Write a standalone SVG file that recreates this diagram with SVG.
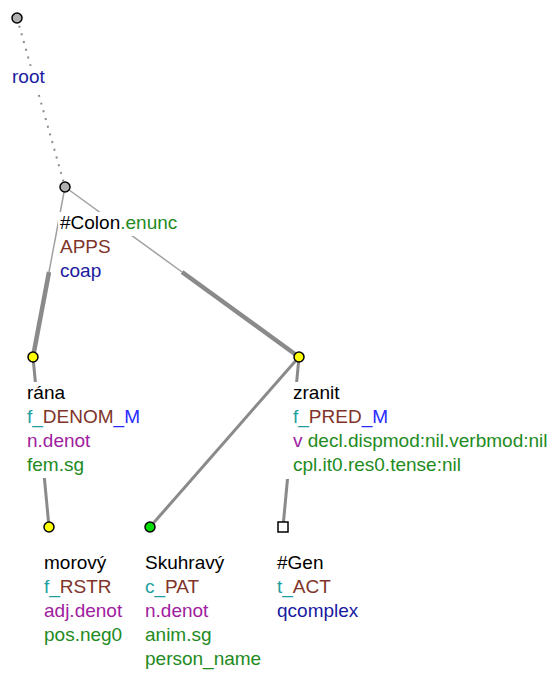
<svg xmlns="http://www.w3.org/2000/svg" width="557" height="673" viewBox="0 0 557 673">
<style>
text{font-family:"Liberation Sans",Arial,Helvetica,sans-serif;font-size:19px}
.bg{fill:#ffffff}
.lem{fill:#000000}
.grn{fill:#228b22}
.brn{fill:#80342a}
.cyn{fill:#1ea0a0}
.blu{fill:#2a2aff}
.dbl{fill:#1a1aa0}
.pur{fill:#a020a0}
.nd{stroke:#000000;stroke-width:1.5}
.gray{fill:#b0b0b0}
.yel{fill:#ffff00}
.gre{fill:#00dd00}
.thin{stroke:#a0a0a0;stroke-width:1.5;fill:none}
.thick{stroke:#8a8a8a;stroke-width:4.5;fill:none}
.edge{stroke:#8a8a8a;stroke-width:3;fill:none}
.dot{stroke:#8c8c8c;stroke-width:2;stroke-dasharray:2 6;fill:none}
</style>
<g id="connectors">
<line class="dot" x1="17" y1="18" x2="65" y2="187"/>
<line class="thin" x1="65" y1="187" x2="49" y2="272"/>
<line class="thick" x1="49" y1="272" x2="33" y2="357"/>
<line class="thin" x1="65" y1="187" x2="182" y2="272"/>
<line class="thick" x1="182" y1="272" x2="299" y2="357"/>
<line class="edge" x1="33" y1="357" x2="49" y2="527"/>
<line class="edge" x1="299" y1="357" x2="150" y2="527"/>
<line class="edge" x1="299" y1="357" x2="283" y2="527"/>
</g>
<g id="n-root">
<rect class="bg" x="10" y="66" width="36" height="24"/>
<text x="12" y="83" class="dbl">root</text>
<circle class="nd gray" cx="17" cy="18" r="5"/>
</g>
<g id="n-colon">
<rect class="bg" x="58" y="212" width="121" height="24"/>
<rect class="bg" x="58" y="236" width="53" height="24"/>
<rect class="bg" x="58" y="260" width="44" height="24"/>
<text x="60" y="229"><tspan class="lem">#Colon</tspan><tspan class="grn">.enunc</tspan></text>
<text x="60" y="253" class="brn">APPS</text>
<text x="60" y="277" class="dbl">coap</text>
<circle class="nd gray" cx="65" cy="187" r="5"/>
</g>
<g id="n-rana">
<rect class="bg" x="24" y="382" width="41" height="24"/>
<rect class="bg" x="24" y="406" width="116" height="24"/>
<rect class="bg" x="24" y="430" width="66" height="24"/>
<rect class="bg" x="24" y="454" width="60" height="24"/>
<text x="27" y="399" class="lem">rána</text>
<text x="27" y="423"><tspan class="cyn">f_</tspan><tspan class="brn">DENOM</tspan><tspan class="blu">_M</tspan></text>
<text x="27" y="447" class="pur">n.denot</text>
<text x="27" y="471" class="grn">fem.sg</text>
<circle class="nd yel" cx="33" cy="357" r="5"/>
</g>
<g id="n-zranit">
<rect class="bg" x="286" y="382" width="53" height="24"/>
<rect class="bg" x="286" y="406" width="102" height="24"/>
<rect class="bg" x="286" y="430" width="262" height="24"/>
<rect class="bg" x="286" y="454" width="176" height="25"/>
<text x="293" y="399" class="lem">zranit</text>
<text x="293" y="423"><tspan class="cyn">f_</tspan><tspan class="brn">PRED</tspan><tspan class="blu">_M</tspan></text>
<text x="293" y="447"><tspan class="pur">v</tspan><tspan class="grn"> decl.dispmod:nil.verbmod:nil</tspan></text>
<text x="293" y="471" class="grn">cpl.it0.res0.tense:nil</text>
<circle class="nd yel" cx="299" cy="357" r="5"/>
</g>
<g id="n-morovy">
<text x="44" y="569" class="lem">morový</text>
<text x="44" y="593"><tspan class="cyn">f_</tspan><tspan class="brn">RSTR</tspan></text>
<text x="44" y="617" class="pur">adj.denot</text>
<text x="44" y="641" class="grn">pos.neg0</text>
<circle class="nd yel" cx="49" cy="527" r="5"/>
</g>
<g id="n-skuhravy">
<text x="145" y="569" class="lem">Skuhravý</text>
<text x="145" y="593"><tspan class="cyn">c_</tspan><tspan class="brn">PAT</tspan></text>
<text x="145" y="617" class="pur">n.denot</text>
<text x="145" y="641" class="grn">anim.sg</text>
<text x="145" y="665" class="grn">person_name</text>
<circle class="nd gre" cx="150" cy="527" r="5"/>
</g>
<g id="n-gen">
<text x="277" y="569" class="lem">#Gen</text>
<text x="277" y="593"><tspan class="cyn">t_</tspan><tspan class="brn">ACT</tspan></text>
<text x="277" y="617" class="dbl">qcomplex</text>
<rect class="nd" x="278" y="522" width="10" height="10" fill="#ffffff"/>
</g>
</svg>
